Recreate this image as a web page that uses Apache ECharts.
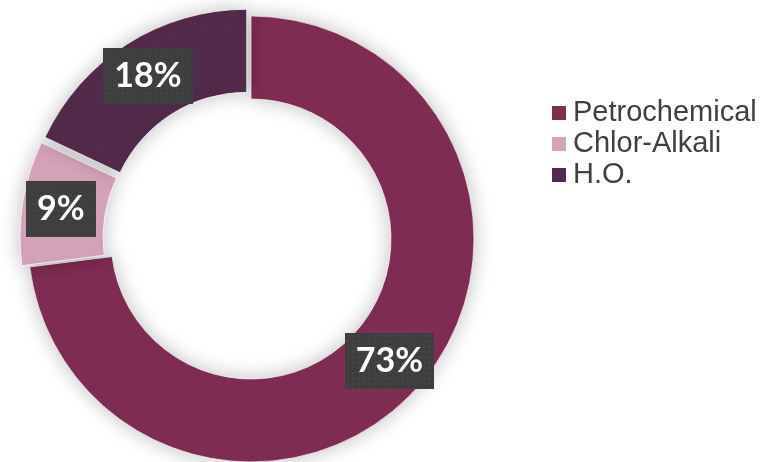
<!DOCTYPE html>
<html>
<head>
<meta charset="utf-8">
<script src="https://cdn.jsdelivr.net/npm/echarts@6/dist/echarts.min.js"></script>
<style>
  html, body { margin: 0; padding: 0; background: #ffffff; }
  #chart { width: 778px; height: 462px; }
</style>
</head>
<body>
<div id="chart"></div>
<script>
// Business segment shares (percent)
const categories = ['Petrochemical', 'Chlor-Alkali', 'H.O.'];
const shares = [73, 9, 18];
const colors = ['#7F2D53', '#D4A3BA', '#522B4A'];
// Segments pulled out of the ring
const pulledOut = [false, true, true];

// Dotted texture for the value tags
function dottedTile(w, h) {
  const c = document.createElement('canvas');
  c.width = w; c.height = h;
  const g = c.getContext('2d');
  g.fillStyle = '#3e3e3e';
  g.fillRect(0, 0, w, h);
  g.fillStyle = '#4d4d4d';
  for (let y = 2; y < h; y += 5.3) {
    for (let x = 2; x < w; x += 5.3) {
      g.fillRect(Math.round(x), Math.round(y), 1.5, 1.5);
    }
  }
  return c;
}
const tile = dottedTile(86, 56);

const chart = echarts.init(document.getElementById('chart'), null, { renderer: 'canvas' });

chart.setOption({
  animation: false,
  backgroundColor: '#ffffff',
  legend: {
    orient: 'vertical',
    left: 552,
    top: 98,
    padding: 0,
    itemWidth: 14,
    itemHeight: 14,
    itemGap: 1,
    icon: 'rect',
    selectedMode: false,
    data: categories,
    itemStyle: { borderWidth: 0, shadowBlur: 0 },
    textStyle: {
      fontFamily: '"Liberation Sans", Arial, sans-serif',
      fontSize: 29,
      lineHeight: 30,
      color: '#404040',
      padding: [0, 0, 0, 2]
    }
  },
  series: [{
    type: 'pie',
    center: [251, 239],
    radius: [140, 223],
    startAngle: 90,
    clockwise: true,
    selectedMode: 'multiple',
    selectedOffset: 8,
    avoidLabelOverlap: false,
    emphasis: { disabled: true },
    itemStyle: {
      borderColor: 'rgba(255,255,255,0.7)',
      borderWidth: 1,
      shadowBlur: 20,
      shadowColor: 'rgba(0,0,0,0.25)'
    },
    label: {
      show: true,
      position: 'inside',
      formatter: '{d}%',
      fontFamily: 'Lato, "Open Sans", sans-serif',
      fontWeight: 'bold',
      fontSize: 34,
      lineHeight: 36,
      color: '#ffffff',
      backgroundColor: { image: tile },
      padding: [10, 11],
      shadowBlur: 6,
      shadowOffsetX: 3,
      shadowOffsetY: 3,
      shadowColor: 'rgba(0,0,0,0.35)'
    },
    labelLine: { show: false },
    data: categories.map((name, i) => ({
      name: name,
      value: shares[i],
      selected: pulledOut[i],
      itemStyle: { color: colors[i] }
    }))
  }]
});
</script>
</body>
</html>
